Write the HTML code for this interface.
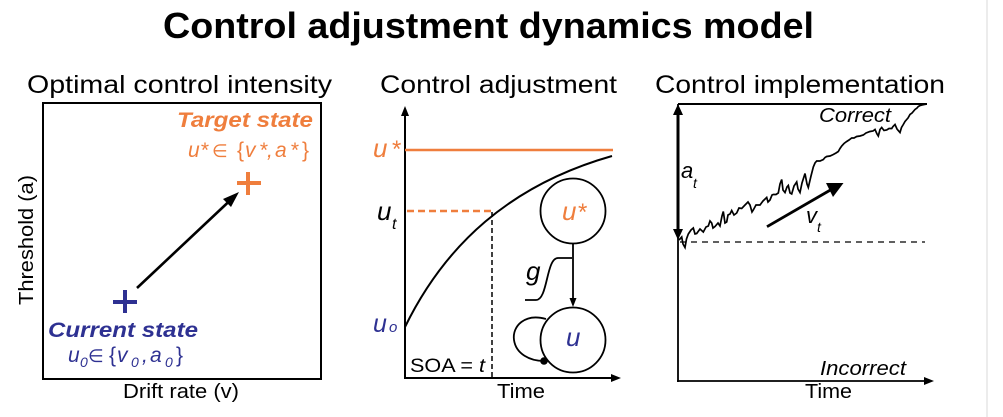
<!DOCTYPE html>
<html>
<head>
<meta charset="utf-8">
<style>
  html, body { margin: 0; padding: 0; background: #ffffff; }
  svg { display: block; }
  text { font-family: "Liberation Sans", Arial, sans-serif; }
</style>
</head>
<body>
<svg width="1003" height="417" viewBox="0 0 1003 417" xmlns="http://www.w3.org/2000/svg">
  <rect x="0" y="0" width="1003" height="417" fill="#ffffff"/>

  <!-- right faint border -->
  <line x1="987" y1="0" x2="987" y2="417" stroke="#d9d9d9" stroke-width="1"/>

  <!-- Main title -->
  <text x="163" y="38" font-size="36" font-weight="bold" textLength="651" lengthAdjust="spacingAndGlyphs">Control adjustment dynamics model</text>

  <!-- Panel titles -->
  <text x="27" y="93" font-size="25" textLength="305" lengthAdjust="spacingAndGlyphs">Optimal control intensity</text>
  <text x="380" y="93" font-size="25" textLength="237" lengthAdjust="spacingAndGlyphs">Control adjustment</text>
  <text x="655" y="93" font-size="25" textLength="290" lengthAdjust="spacingAndGlyphs">Control implementation</text>

  <!-- ================= Panel 1 ================= -->
  <rect x="43" y="103" width="278" height="276" fill="none" stroke="#000" stroke-width="2"/>

  <!-- axis labels -->
  <text x="123" y="398" font-size="20" textLength="116" lengthAdjust="spacingAndGlyphs">Drift rate (v)</text>
  <text transform="translate(33,305) rotate(-90)" x="0" y="0" font-size="20" textLength="130" lengthAdjust="spacingAndGlyphs">Threshold (a)</text>

  <!-- Target state -->
  <text x="177" y="127" font-size="21" font-weight="bold" font-style="italic" fill="#EF7E3D" textLength="136" lengthAdjust="spacingAndGlyphs">Target state</text>
  <g fill="#EF7E3D" font-style="italic" font-size="21">
    <text x="188" y="157">u</text>
    <text x="200" y="157">*</text>
    <text x="212" y="157" font-style="normal" font-family="DejaVu Sans, sans-serif" font-size="18">∈</text>
    <text x="237" y="157" font-style="normal">{</text>
    <text x="245" y="157">v</text>
    <text x="259" y="157">*</text>
    <text x="267" y="157">,</text>
    <text x="275" y="157">a</text>
    <text x="290" y="157">*</text>
    <text x="302" y="157" font-style="normal">}</text>
  </g>

  <!-- orange plus -->
  <rect x="237" y="181" width="24" height="4" fill="#EF7E3D"/>
  <rect x="246" y="172" width="4" height="23" fill="#EF7E3D"/>

  <!-- navy plus -->
  <rect x="113" y="300" width="24" height="4" fill="#2E3192"/>
  <rect x="123" y="290" width="4" height="23" fill="#2E3192"/>

  <!-- arrow -->
  <line x1="137" y1="288" x2="230" y2="200.5" stroke="#000" stroke-width="2.6"/>
  <polygon points="239,192 223,199 231,207" fill="#000"/>

  <!-- Current state -->
  <text x="48" y="337" font-size="21" font-weight="bold" font-style="italic" fill="#2E3192" textLength="150" lengthAdjust="spacingAndGlyphs">Current state</text>
  <g fill="#2E3192" font-style="italic" font-size="21">
    <text x="68" y="362">u</text>
    <text x="80" y="367" font-size="14">0</text>
    <text x="88" y="362" font-style="normal" font-family="DejaVu Sans, sans-serif" font-size="18">∈</text>
    <text x="109" y="362" font-style="normal">{</text>
    <text x="117" y="362">v</text>
    <text x="131" y="367" font-size="14">0</text>
    <text x="142" y="362">,</text>
    <text x="150" y="362">a</text>
    <text x="165" y="367" font-size="14">0</text>
    <text x="176" y="362" font-style="normal">}</text>
  </g>

  <!-- ================= Panel 2 ================= -->
  <!-- axes -->
  <line x1="405" y1="112" x2="405" y2="379" stroke="#000" stroke-width="2"/>
  <polygon points="405,106 401,116 409,116" fill="#000"/>
  <line x1="404" y1="378" x2="613" y2="378" stroke="#000" stroke-width="2"/>
  <polygon points="621,378 611,374 611,382" fill="#000"/>

  <!-- u* line -->
  <line x1="405" y1="150" x2="613" y2="150" stroke="#EF7E3D" stroke-width="2.5"/>
  <!-- dashed u_t -->
  <line x1="407" y1="211" x2="492" y2="211" stroke="#EF7E3D" stroke-width="2.5" stroke-dasharray="7 4"/>
  <line x1="492" y1="212" x2="492" y2="378" stroke="#000" stroke-width="1.5" stroke-dasharray="5 3"/>

  <!-- curve -->
  <path d="M405,327 C445,245 510,185 612,156" fill="none" stroke="#000" stroke-width="2"/>

  <!-- labels -->
  <text x="373" y="157" font-size="26" font-style="italic" fill="#EF7E3D">u</text>
  <text x="391" y="157" font-size="24" font-style="italic" fill="#EF7E3D">*</text>
  <text x="377" y="220" font-size="26" font-style="italic">u</text>
  <text x="392" y="229" font-size="16" font-style="italic">t</text>
  <text x="373" y="332" font-size="25" font-style="italic" fill="#2E3192">u</text>
  <text x="389" y="332" font-size="15" font-style="italic" fill="#2E3192">o</text>
  <text x="410" y="372" font-size="19" textLength="75" lengthAdjust="spacingAndGlyphs">SOA = <tspan font-style="italic">t</tspan></text>
  <text x="497" y="398" font-size="20" textLength="48" lengthAdjust="spacingAndGlyphs">Time</text>

  <!-- graph model -->
  <circle cx="573" cy="211" r="32.5" fill="#fff" stroke="#000" stroke-width="1.8"/>
  <text x="562" y="220" font-size="26" font-style="italic" fill="#EF7E3D">u</text>
  <text x="577" y="220" font-size="24" font-style="italic" fill="#EF7E3D">*</text>

  <line x1="573" y1="243.5" x2="573" y2="300" stroke="#000" stroke-width="1.8"/>
  <polygon points="573,307 569.5,298 576.5,298" fill="#000"/>

  <path d="M525,300 L536,300 C548,300 546,258 558,258 L572,258" fill="none" stroke="#000" stroke-width="1.8"/>
  <text x="526" y="280" font-size="26" font-style="italic">g</text>

  <path d="M546,319 C525,313 512,326 514,340 C516,354 530,361 544,361" fill="none" stroke="#000" stroke-width="1.8"/>
  <circle cx="573" cy="340" r="32.5" fill="none" stroke="#000" stroke-width="1.8"/>
  <circle cx="544" cy="361" r="3.8" fill="#000"/>
  <text x="566" y="346" font-size="26" font-style="italic" fill="#2E3192">u</text>

  <!-- ================= Panel 3 ================= -->
  <line x1="678" y1="104" x2="927" y2="104" stroke="#000" stroke-width="2"/>
  <line x1="678" y1="104" x2="678" y2="382" stroke="#000" stroke-width="1.8"/>
  <line x1="677" y1="381" x2="925" y2="381" stroke="#000" stroke-width="1.8"/>
  <polygon points="934,381 924,377 924,385" fill="#000"/>

  <line x1="680" y1="242" x2="925" y2="242" stroke="#000" stroke-width="1.3" stroke-dasharray="6 5"/>

  <!-- a_t double arrow -->
  <line x1="678" y1="110" x2="678" y2="234" stroke="#000" stroke-width="3"/>
  <polygon points="678,104 673,115 683,115" fill="#000"/>
  <polygon points="678,240 673,229 683,229" fill="#000"/>
  <text x="681" y="178" font-size="22" font-style="italic">a</text>
  <text x="693" y="188" font-size="14" font-style="italic">t</text>

  <!-- random walk -->
  <polyline fill="none" stroke="#000" stroke-width="1.7" stroke-linejoin="miter" points="
    679,240 681.7,237 683,244 685,247.5 686.5,239 688.3,234 691,230 693.3,228 695,234 696.7,233.5 700,229 703.3,232
    706,227 708.3,226 710,221 711.7,223 713,228 715,226.5 718,223 720,226 722,216 723.3,211.5 725,223
    726.7,222 728,215 730,214 731.7,210.5 734,215 736.7,213 739,208 741.7,208.5 745,205 748,202 750,205 752,212 753.3,210
    756,205 760,205 763,201 766.7,197.5 768,202 770,200 772,195 773.3,194.5 776,194.5 778.3,193 780,184 781.7,179.5 783,190
    785,192.5 787,187 788.3,185.5 790,193 791.7,194 794,186 796.7,182 798,189 800,192.5 802,183 805,173.5 807,184
    808.3,187.5 811,176 813.3,167 815,163 816.7,161 820,161 823.3,159.5 825,157.5 826.7,156.5 830,156 833.3,154.5
    836,153 838.3,151.5 840,148.5 841.7,146 844,143.5 846.7,141.5 849,140 851.7,138 854,138 856.7,136.5 860,136
    863.3,135 866,133 870,131.5 873,131 875,129.5 877,134 878.3,136 880,129.5 881.7,127.5 884,130.5 886.7,130 889,128.5
    891.7,128.5 893,126.5 895,124.5 897,129 900,132.5 901.5,127.5 903.3,124.5 905,121.5 906.7,119.5 908,118 910,114.5 912,113
    915,109.5 917,108 918.3,106.5 920,105.5 921.7,105 924,104.5 926.7,104"/>

  <!-- v_t arrow -->
  <line x1="767" y1="226.7" x2="833" y2="188.5" stroke="#000" stroke-width="2.8"/>
  <polygon points="843.5,183 826,183 833,197" fill="#000"/>
  <text x="806" y="223" font-size="22" font-style="italic">v</text>
  <text x="817" y="232" font-size="14" font-style="italic">t</text>

  <text x="819" y="122" font-size="20" font-style="italic" textLength="72" lengthAdjust="spacingAndGlyphs">Correct</text>
  <text x="820" y="375" font-size="20" font-style="italic" textLength="86" lengthAdjust="spacingAndGlyphs">Incorrect</text>
  <text x="805" y="398" font-size="20" textLength="47" lengthAdjust="spacingAndGlyphs">Time</text>
</svg>
</body>
</html>
